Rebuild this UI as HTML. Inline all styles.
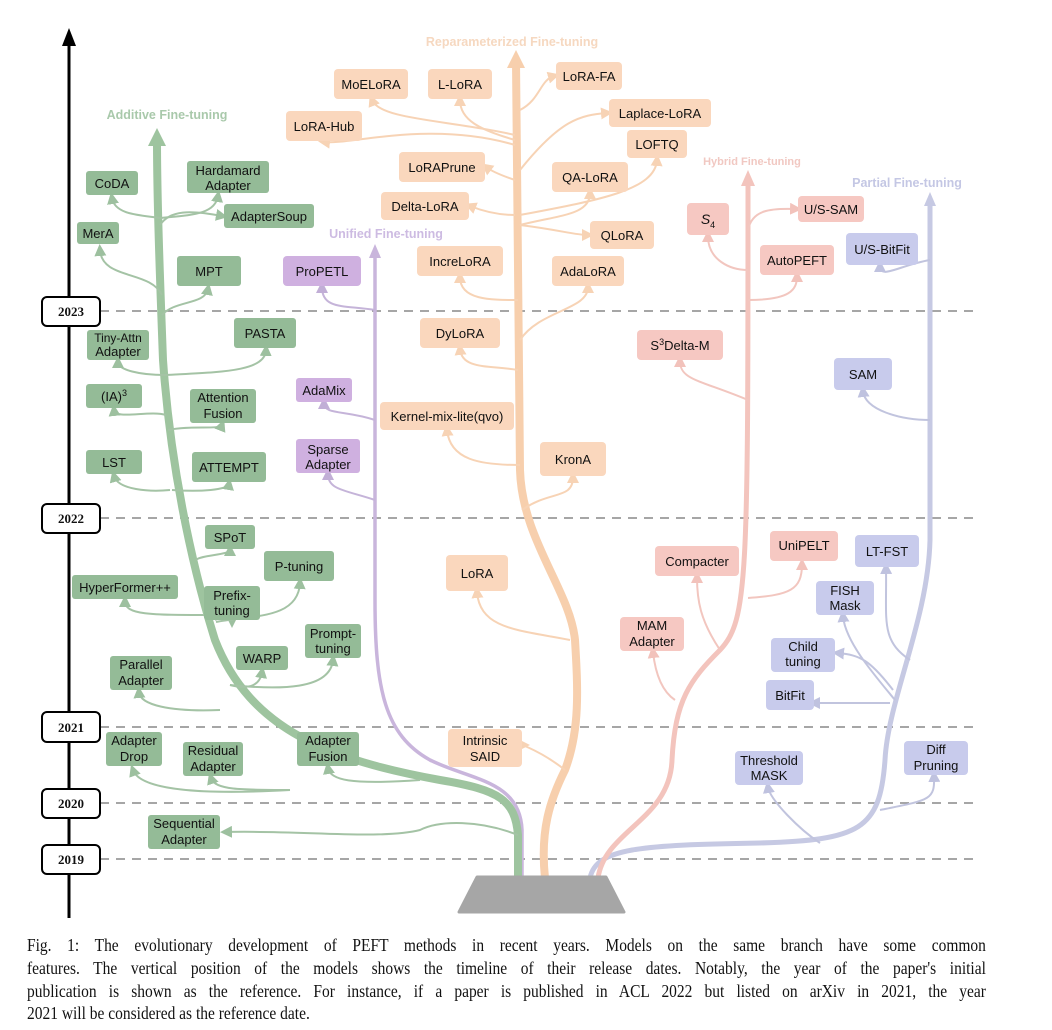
<!DOCTYPE html>
<html><head><meta charset="utf-8"><style>
body{margin:0;background:#fff;width:1052px;height:1030px;overflow:hidden;position:relative}
svg{position:absolute;left:0;top:0}
.cap{position:absolute;left:27px;width:1115px;transform:scaleX(0.86);transform-origin:0 0;font-family:"Liberation Serif",serif;font-size:18px;color:#111;text-align:justify;text-align-last:justify;white-space:nowrap;line-height:20px}
.cap.l{text-align-last:left}
text{font-family:"Liberation Sans",sans-serif;font-size:13px;fill:#111;text-anchor:middle}
.yr{font-family:"Liberation Serif",serif;font-weight:bold;font-size:13px}
.tt{font-weight:bold;font-size:12.5px}
</style></head><body>
<svg width="1052" height="1030" viewBox="0 0 1052 1030">
<defs>
<marker id="ag" markerWidth="6" markerHeight="6" refX="3" refY="3" orient="auto"><path d="M0,0L6,3L0,6z" fill="#9dc09f"/></marker>
<marker id="ao" markerWidth="6" markerHeight="6" refX="3" refY="3" orient="auto"><path d="M0,0L6,3L0,6z" fill="#f7d3b5"/></marker>
<marker id="ap" markerWidth="6" markerHeight="6" refX="3" refY="3" orient="auto"><path d="M0,0L6,3L0,6z" fill="#c1aed6"/></marker>
<marker id="ar" markerWidth="6" markerHeight="6" refX="3" refY="3" orient="auto"><path d="M0,0L6,3L0,6z" fill="#f2c2bb"/></marker>
<marker id="ab" markerWidth="6" markerHeight="6" refX="3" refY="3" orient="auto"><path d="M0,0L6,3L0,6z" fill="#bfc2df"/></marker>
</defs>
<line x1="69" y1="40" x2="69" y2="918" stroke="#000" stroke-width="3"/>
<path d="M62,46L69,28L76,46z" fill="#000"/>
<g stroke="#888" stroke-width="1.5" stroke-dasharray="9,7">
<line x1="100" y1="311" x2="980" y2="311"/><line x1="100" y1="518" x2="980" y2="518"/>
<line x1="100" y1="727" x2="980" y2="727"/><line x1="100" y1="803" x2="980" y2="803"/>
<line x1="100" y1="859" x2="980" y2="859"/></g>
<text x="512" y="46" class="tt" style="fill:#f6d8c0">Reparameterized Fine-tuning</text>
<text x="167" y="119" class="tt" style="fill:#a9c9ab">Additive Fine-tuning</text>
<text x="386" y="238" class="tt" style="fill:#cdbbe2">Unified Fine-tuning</text>
<text x="752" y="165" class="tt" style="fill:#f1c8c2;font-size:11px">Hybrid Fine-tuning</text>
<text x="907" y="187" class="tt" style="fill:#c4c7e4">Partial Fine-tuning</text>
<path d="M590,878 C596,848 640,845 760,843 C860,840 880,830 885,760 C888,700 928,620 930,540 L930,200" fill="none" stroke="#c6c9e3" stroke-width="5"/>
<path d="M924,206L930,192L936,206z" fill="#c6c9e3"/>
<path d="M598,878 C605,830 670,820 672,760 C675,700 690,680 720,650 C748,620 748,580 748,178" fill="none" stroke="#f3c4bd" stroke-width="5"/>
<path d="M741,186L748,170L755,186z" fill="#f3c4bd"/>
<path d="M522,878 L522,830 C520,780 470,780 430,760 C385,735 375,690 375,600 L375,252" fill="none" stroke="#c9b5dc" stroke-width="3.5"/>
<path d="M369,258L375,244L381,258z" fill="#c9b5dc"/>
<path d="M545,878 C540,830 550,800 565,770 C580,730 578,690 575,640 C570,590 522,540 520,470 L516,62" fill="none" stroke="#f7cfad" stroke-width="8"/>
<path d="M507,68L516,50L525,68z" fill="#f7cfad"/>
<path d="M518,878 L518,835 C515,800 500,790 440,780 C330,760 250,730 215,640 C190,560 170,460 163,360 C160,280 157,200 157,140" fill="none" stroke="#9ec49f" stroke-width="8"/>
<path d="M148,146L157,128L166,146z" fill="#9ec49f"/>
<g fill="none" stroke="#a4c3a5" stroke-width="2" marker-end="url(#ag)">
<path d="M160,218 C140,215 115,215 112,198"/>
<path d="M160,218 C190,215 215,215 218,196"/>
<path d="M160,225 C170,210 190,210 222,216"/>
<path d="M162,295 C150,270 102,280 100,250"/>
<path d="M162,315 C175,300 205,305 208,289"/>
<path d="M165,375 C140,375 118,370 118,362"/>
<path d="M165,375 C220,372 265,372 266,350"/>
<path d="M166,415 C150,410 115,420 114,410"/>
<path d="M168,430 C190,425 220,430 222,425"/>
<path d="M170,490 C150,492 118,490 114,476"/>
<path d="M172,490 C200,492 228,490 229,484"/>
<path d="M196,560 C200,555 230,555 230,550"/>
<path d="M210,615 C150,615 125,615 125,601"/>
<path d="M215,620 C225,615 232,615 232,622"/>
<path d="M216,622 C250,615 298,620 300,583"/>
<path d="M230,685 C250,690 260,685 262,672"/>
<path d="M230,685 C280,690 330,690 333,660"/>
<path d="M220,710 C170,712 140,705 139,692"/>
<path d="M290,790 C200,795 140,790 133,770"/>
<path d="M290,790 C240,790 215,790 211,778"/>
<path d="M420,780 C350,785 330,780 328,768"/>
<path d="M518,835 C480,820 440,820 420,830 C380,840 300,830 226,832"/>
</g>
<g fill="none" stroke="#f7d3b5" stroke-width="2" marker-end="url(#ao)">
<path d="M515,135 C450,120 380,120 372,100"/>
<path d="M515,140 C480,130 460,120 460,100"/>
<path d="M515,145 C430,120 350,145 324,142"/>
<path d="M515,180 C500,175 490,170 486,167"/>
<path d="M515,215 C495,215 480,210 470,206"/>
<path d="M518,300 C490,300 460,300 460,277"/>
<path d="M518,370 C490,365 462,370 460,349"/>
<path d="M520,465 C480,465 450,460 447,430"/>
<path d="M520,110 C540,100 540,80 554,76"/>
<path d="M520,170 C560,120 580,115 607,113"/>
<path d="M520,215 C600,200 655,190 657,160"/>
<path d="M520,225 C560,215 590,215 590,193"/>
<path d="M520,225 C560,230 575,235 588,235"/>
<path d="M520,340 C540,310 588,310 588,287"/>
<path d="M522,510 C550,490 573,500 573,477"/>
<path d="M570,640 C520,630 480,630 477,592"/>
<path d="M565,770 C540,750 520,745 524,745"/>
</g>
<g fill="none" stroke="#c5b4d9" stroke-width="2" marker-end="url(#ap)">
<path d="M375,310 C345,305 322,310 322,287"/>
<path d="M375,420 C345,410 324,415 324,403"/>
<path d="M375,500 C345,490 328,490 328,474"/>
</g>
<g fill="none" stroke="#f2c6bf" stroke-width="2" marker-end="url(#ar)">
<path d="M748,270 C730,270 708,260 708,236"/>
<path d="M748,230 C752,210 770,208 796,209"/>
<path d="M748,300 C790,300 797,290 797,276"/>
<path d="M748,400 C700,380 680,380 680,361"/>
<path d="M720,650 C700,620 697,600 697,577"/>
<path d="M748,598 C790,595 802,590 802,564"/>
<path d="M675,700 C660,690 655,670 653,652"/>
</g>
<g fill="none" stroke="#c1c4de" stroke-width="2" marker-end="url(#ab)">
<path d="M930,260 C900,265 880,280 880,266"/>
<path d="M930,420 C900,420 865,410 863,391"/>
<path d="M910,660 C880,640 887,620 886,568"/>
<path d="M895,700 C870,670 845,640 843,616"/>
<path d="M893,690 C870,660 860,655 838,653"/>
<path d="M890,703 C860,703 840,703 814,703"/>
<path d="M820,843 C800,830 770,800 768,787"/>
<path d="M880,810 C930,800 935,800 934,776"/>
</g>
<path d="M477,877 L606,877 L624,912 L459,912 z" fill="#a6a6a6" stroke="#a6a6a6" stroke-width="3" stroke-linejoin="round"/>
<g fill="#fff" stroke="#000" stroke-width="2">
<rect x="42" y="297" width="58" height="29" rx="5"/><rect x="42" y="504" width="58" height="29" rx="5"/>
<rect x="42" y="712" width="58" height="30" rx="5"/><rect x="42" y="789" width="58" height="29" rx="5"/>
<rect x="42" y="845" width="58" height="29" rx="5"/></g>
<text x="71" y="316" class="yr">2023</text><text x="71" y="523" class="yr">2022</text>
<text x="71" y="732" class="yr">2021</text><text x="71" y="808" class="yr">2020</text><text x="71" y="864" class="yr">2019</text>
<g fill="#94bb97">
<rect x="86" y="171" width="52" height="24" rx="3"/><rect x="187" y="161" width="82" height="32" rx="3"/>
<rect x="224" y="204" width="90" height="24" rx="3"/><rect x="77" y="222" width="42" height="22" rx="3"/>
<rect x="177" y="256" width="64" height="30" rx="3"/><rect x="87" y="330" width="62" height="30" rx="3"/>
<rect x="234" y="318" width="62" height="30" rx="3"/><rect x="86" y="384" width="56" height="24" rx="3"/>
<rect x="190" y="389" width="66" height="34" rx="3"/><rect x="86" y="450" width="56" height="24" rx="3"/>
<rect x="192" y="452" width="74" height="30" rx="3"/><rect x="205" y="525" width="50" height="24" rx="3"/>
<rect x="264" y="551" width="70" height="30" rx="3"/><rect x="72" y="575" width="106" height="24" rx="3"/>
<rect x="204" y="586" width="56" height="34" rx="3"/><rect x="236" y="646" width="52" height="24" rx="3"/>
<rect x="305" y="624" width="56" height="34" rx="3"/><rect x="110" y="656" width="62" height="34" rx="3"/>
<rect x="106" y="732" width="56" height="34" rx="3"/><rect x="183" y="742" width="60" height="34" rx="3"/>
<rect x="297" y="732" width="62" height="34" rx="3"/><rect x="148" y="815" width="72" height="34" rx="3"/>
</g>
<text x="112" y="188">CoDA</text><text x="228" y="175">Hardamard</text><text x="228" y="190">Adapter</text>
<text x="269" y="221">AdapterSoup</text><text x="98" y="238">MerA</text><text x="209" y="276">MPT</text>
<text x="118" y="342" style="font-size:12px">Tiny-Attn</text><text x="118" y="356">Adapter</text>
<text x="265" y="338">PASTA</text><text x="114" y="401">(IA)<tspan dy="-5" font-size="9">3</tspan></text>
<text x="223" y="402">Attention</text><text x="223" y="418">Fusion</text><text x="114" y="467">LST</text>
<text x="229" y="472">ATTEMPT</text><text x="230" y="542">SPoT</text><text x="299" y="571">P-tuning</text>
<text x="125" y="592">HyperFormer++</text><text x="232" y="600">Prefix-</text><text x="232" y="615">tuning</text>
<text x="262" y="663">WARP</text><text x="333" y="638">Prompt-</text><text x="333" y="653">tuning</text>
<text x="141" y="669">Parallel</text><text x="141" y="685">Adapter</text>
<text x="134" y="745">Adapter</text><text x="134" y="761">Drop</text>
<text x="213" y="755">Residual</text><text x="213" y="771">Adapter</text>
<text x="328" y="745">Adapter</text><text x="328" y="761">Fusion</text>
<text x="184" y="828">Sequential</text><text x="184" y="844">Adapter</text>
<g fill="#cfb0e0"><rect x="283" y="256" width="78" height="30" rx="4"/><rect x="296" y="378" width="56" height="24" rx="3"/><rect x="296" y="439" width="64" height="34" rx="3"/></g>
<text x="322" y="276">ProPETL</text><text x="324" y="395">AdaMix</text>
<text x="328" y="454">Sparse</text><text x="328" y="469">Adapter</text>
<g fill="#fad7bd">
<rect x="334" y="69" width="74" height="30" rx="4"/><rect x="428" y="69" width="64" height="30" rx="4"/>
<rect x="286" y="111" width="76" height="30" rx="4"/><rect x="399" y="152" width="86" height="30" rx="4"/>
<rect x="381" y="192" width="88" height="28" rx="4"/><rect x="417" y="246" width="86" height="30" rx="4"/>
<rect x="420" y="318" width="80" height="30" rx="4"/><rect x="380" y="402" width="134" height="28" rx="4"/>
<rect x="446" y="555" width="62" height="36" rx="4"/><rect x="448" y="729" width="74" height="38" rx="4"/>
<rect x="556" y="62" width="66" height="28" rx="4"/><rect x="609" y="99" width="102" height="28" rx="4"/>
<rect x="627" y="130" width="60" height="28" rx="4"/><rect x="552" y="162" width="76" height="30" rx="4"/>
<rect x="590" y="221" width="64" height="28" rx="4"/><rect x="552" y="256" width="72" height="30" rx="4"/>
<rect x="540" y="442" width="66" height="34" rx="4"/>
</g>
<text x="371" y="89">MoELoRA</text><text x="460" y="89">L-LoRA</text><text x="324" y="131">LoRA-Hub</text>
<text x="442" y="172">LoRAPrune</text><text x="425" y="211">Delta-LoRA</text><text x="460" y="266">IncreLoRA</text>
<text x="460" y="338">DyLoRA</text><text x="447" y="421">Kernel-mix-lite(qvo)</text>
<text x="477" y="578">LoRA</text><text x="485" y="745">Intrinsic</text><text x="485" y="761">SAID</text>
<text x="589" y="81">LoRA-FA</text><text x="660" y="118">Laplace-LoRA</text><text x="657" y="149">LOFTQ</text>
<text x="590" y="182">QA-LoRA</text><text x="622" y="240">QLoRA</text><text x="588" y="276">AdaLoRA</text>
<text x="573" y="464">KronA</text>
<g fill="#f6c8c2">
<rect x="687" y="203" width="42" height="32" rx="4"/><rect x="798" y="196" width="66" height="26" rx="4"/>
<rect x="760" y="245" width="74" height="30" rx="4"/><rect x="637" y="330" width="86" height="30" rx="4"/>
<rect x="655" y="546" width="84" height="30" rx="4"/><rect x="770" y="531" width="68" height="30" rx="4"/>
<rect x="620" y="617" width="64" height="34" rx="4"/>
</g>
<text x="708" y="224" style="font-style:italic;font-size:14px">S<tspan dy="4" font-size="9" font-style="normal">4</tspan></text>
<text x="831" y="214">U/S-SAM</text><text x="797" y="265">AutoPEFT</text>
<text x="680" y="350">S<tspan dy="-5" font-size="9">3</tspan><tspan dy="5">Delta-M</tspan></text>
<text x="697" y="566">Compacter</text><text x="804" y="550">UniPELT</text>
<text x="652" y="630">MAM</text><text x="652" y="646">Adapter</text>
<g fill="#c8cbec">
<rect x="846" y="233" width="72" height="32" rx="4"/><rect x="834" y="358" width="58" height="32" rx="4"/>
<rect x="855" y="535" width="64" height="32" rx="4"/><rect x="816" y="581" width="58" height="34" rx="4"/>
<rect x="771" y="638" width="64" height="34" rx="4"/><rect x="766" y="680" width="48" height="30" rx="4"/>
<rect x="735" y="751" width="68" height="34" rx="4"/><rect x="904" y="741" width="64" height="34" rx="4"/>
</g>
<text x="882" y="254">U/S-BitFit</text><text x="863" y="379">SAM</text><text x="887" y="556">LT-FST</text>
<text x="845" y="595">FISH</text><text x="845" y="610">Mask</text>
<text x="803" y="651">Child</text><text x="803" y="666">tuning</text><text x="790" y="700">BitFit</text>
<text x="769" y="765">Threshold</text><text x="769" y="780">MASK</text>
<text x="936" y="754">Diff</text><text x="936" y="770">Pruning</text>
</svg>
<div class="cap" style="top:935px">Fig. 1: The evolutionary development of PEFT methods in recent years. Models on the same branch have some common</div>
<div class="cap" style="top:958px">features. The vertical position of the models shows the timeline of their release dates. Notably, the year of the paper's initial</div>
<div class="cap" style="top:981px">publication is shown as the reference. For instance, if a paper is published in ACL 2022 but listed on arXiv in 2021, the year</div>
<div class="cap l" style="top:1003px">2021 will be considered as the reference date.</div>
</body></html>
